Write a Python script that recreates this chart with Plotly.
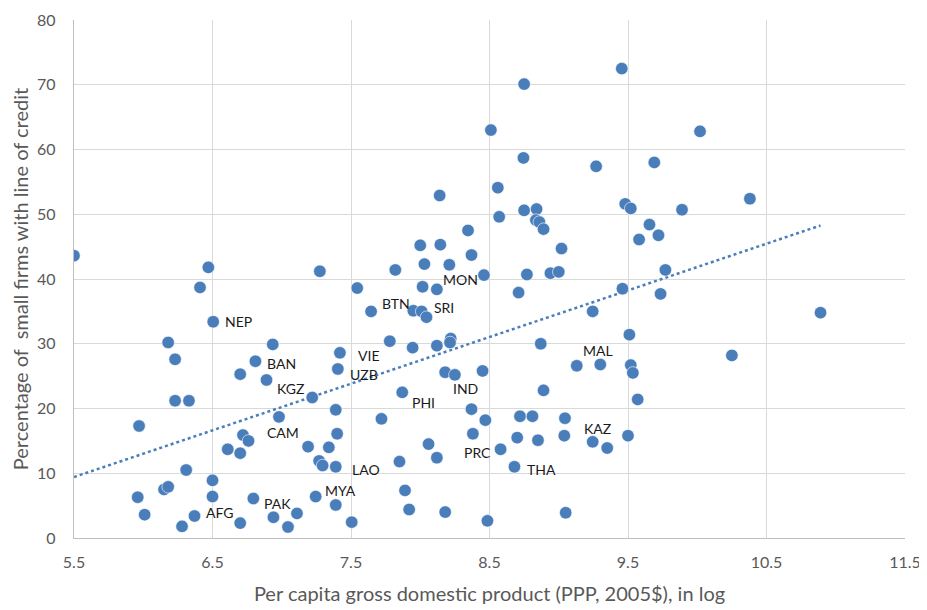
import numpy as np
import plotly.graph_objects as go

# log per-capita GDP (x) and % of small firms with line of credit (y)
gdp_log = [5.50, 6.47, 6.41, 6.505, 6.18, 6.935, 6.23, 6.81, 6.70, 6.89,
           6.23, 6.33, 5.97, 6.98, 6.72, 6.76, 6.61, 6.70, 6.31, 6.50,
           6.15, 6.18, 5.96, 6.50, 6.795, 6.01, 6.37, 6.28, 6.70, 6.94,
           7.11, 7.045, 7.22, 7.19, 7.245, 7.545, 8.017, 8.12, 8.46, 8.71,
           7.645, 7.95, 8.01, 8.045, 7.78, 7.945, 8.12, 8.22, 8.215, 8.87,
           7.42, 7.405, 8.18, 8.25, 8.45, 8.89, 7.87, 7.39, 7.72, 8.37,
           8.47, 8.72, 8.81, 7.40, 7.34, 8.06, 8.38, 8.70, 8.85, 8.58,
           7.27, 7.295, 7.39, 7.85, 8.12, 8.68, 7.39, 7.89, 7.92, 8.18,
           7.505, 8.485, 8.75, 8.51, 8.745, 8.56, 8.14, 8.75, 8.84, 8.57,
           8.835, 8.86, 8.89, 8.345, 8.00, 8.145, 8.37, 7.275, 7.82, 8.03,
           8.21, 8.77, 8.94, 9.00, 9.455, 10.02, 9.27, 9.69, 9.48, 9.52,
           9.89, 10.38, 9.655, 9.58, 9.72, 9.02, 9.77, 9.46, 9.735, 9.245,
           10.89, 9.51, 10.25, 9.13, 9.30, 9.52, 9.535, 9.57, 9.045, 9.04,
           9.245, 9.35, 9.50, 9.05]
credit_pct = [43.6, 41.8, 38.7, 33.4, 30.2, 29.9, 27.6, 27.3, 25.3, 24.4,
              21.2, 21.2, 17.3, 18.7, 15.9, 15.0, 13.7, 13.1, 10.5, 8.9,
              7.5, 7.9, 6.3, 6.4, 6.1, 3.6, 3.4, 1.8, 2.3, 3.2,
              3.8, 1.7, 21.7, 14.1, 6.4, 38.6, 38.8, 38.4, 40.6, 37.9,
              35.0, 35.1, 35.0, 34.1, 30.4, 29.4, 29.7, 30.8, 30.2, 30.0,
              28.6, 26.1, 25.6, 25.2, 25.8, 22.8, 22.5, 19.8, 18.4, 19.9,
              18.2, 18.8, 18.8, 16.1, 14.0, 14.5, 16.1, 15.5, 15.1, 13.7,
              11.9, 11.2, 11.0, 11.8, 12.4, 11.0, 5.1, 7.35, 4.4, 4.0,
              2.45, 2.65, 70.1, 63.0, 58.7, 54.1, 52.9, 50.6, 50.8, 49.6,
              49.1, 48.8, 47.7, 47.5, 45.2, 45.3, 43.7, 41.2, 41.4, 42.3,
              42.2, 40.7, 40.9, 41.1, 72.5, 62.8, 57.4, 58.0, 51.6, 50.9,
              50.7, 52.4, 48.4, 46.1, 46.75, 44.7, 41.4, 38.5, 37.7, 35.0,
              34.8, 31.4, 28.2, 26.6, 26.8, 26.7, 25.5, 21.4, 18.5, 15.8,
              14.85, 13.9, 15.8, 3.9]
# economy codes (blank = unlabelled)
codes = [""] * len(gdp_log)
code_index = {"NEP": 3, "BAN": 7, "KGZ": 9, "CAM": 15, "PAK": 24, "AFG": 26,
              "MYA": 34, "MON": 37, "BTN": 40, "SRI": 42, "VIE": 50, "UZB": 51,
              "IND": 52, "PHI": 56, "PRC": 69, "LAO": 72, "THA": 75,
              "MAL": 123, "KAZ": 130}
for c, i in code_index.items():
    codes[i] = c

x_ticks = [5.5, 6.5, 7.5, 8.5, 9.5, 10.5, 11.5]
y_ticks = [0, 10, 20, 30, 40, 50, 60, 70, 80]

# label placement (pixel offsets from the point, anchor)
label_style = {"NEP": (10, 0, "left"), "BAN": (10, -2, "left"), "KGZ": (8, -8, "left"),
               "CAM": (16, 8, "left"), "PAK": (9, -5, "left"), "AFG": (9, 3, "left"),
               "MYA": (7, 6, "left"), "MON": (4, 10, "left"), "BTN": (9, 8, "left"),
               "SRI": (10, 4, "left"), "VIE": (16, -3, "left"), "UZB": (10, -5, "left"),
               "IND": (6, -16, "left"), "PHI": (8, -10, "left"), "PRC": (-8, -3, "right"),
               "LAO": (14, -3, "left"), "THA": (11, -3, "left"), "MAL": (4, 15, "left"),
               "KAZ": (-11, 13, "left")}

blue = "#4a7ebb"
fig = go.Figure()

# linear trend line
coef = np.polyfit(gdp_log, credit_pct, 1)
tx = np.array([min(gdp_log), max(gdp_log)])
fig.add_trace(go.Scatter(x=tx, y=np.polyval(coef, tx), mode="lines",
                         line=dict(color=blue, width=2.5, dash="dot"),
                         hoverinfo="skip", showlegend=False))

fig.add_trace(go.Scatter(x=gdp_log, y=credit_pct, mode="markers",
                         marker=dict(color=blue, size=12.5,
                                     line=dict(color="white", width=0.6)),
                         showlegend=False))

for i, c in enumerate(codes):
    if c:
        dx, dy, anc = label_style[c]
        fig.add_annotation(x=gdp_log[i], y=credit_pct[i], text=c, showarrow=False,
                           xanchor=anc, yanchor="middle", xshift=dx, yshift=dy,
                           font=dict(family="Lato", size=14, color="#1a1a1a"))

fig.update_layout(
    width=927, height=610,
    margin=dict(l=66, r=30, t=12, b=80),
    paper_bgcolor="white", plot_bgcolor="white",
    font=dict(family="Lato", color="#595959"),
    xaxis=dict(range=[5.5, 11.5], tickvals=x_ticks, ticktext=[str(v) for v in x_ticks],
               showgrid=True, gridcolor="#d9d9d9", gridwidth=1.3,
               showline=True, linecolor="#bfbfbf", linewidth=1.3,
               zeroline=False, tickfont=dict(size=16, color="#595959"),
               ticklabelstandoff=10, automargin=False,
               title=dict(text="Per capita gross domestic product (PPP, 2005$), in log",
                          font=dict(size=20, color="#595959"), standoff=16)),
    yaxis=dict(range=[0, 80], tickvals=y_ticks,
               showgrid=True, gridcolor="#d9d9d9", gridwidth=1.3,
               showline=True, linecolor="#bfbfbf", linewidth=1.3,
               zeroline=False, tickfont=dict(size=16, color="#595959"),
               ticklabelstandoff=14, automargin=False,
               title=dict(text="Percentage of  small firms with line of credit",
                          font=dict(size=20, color="#595959"), standoff=9)),
)

fig.write_html("out.html")
